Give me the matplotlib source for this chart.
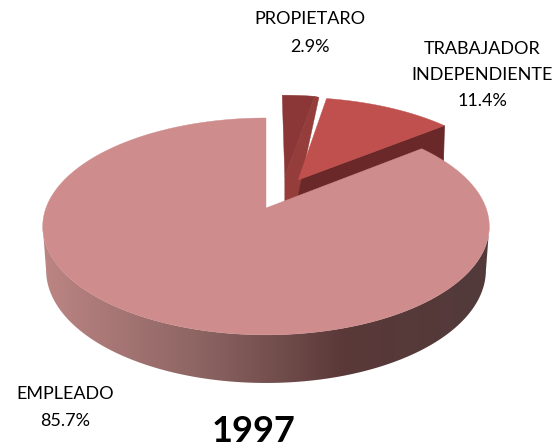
import numpy as np
import matplotlib
matplotlib.use("Agg")
import matplotlib.pyplot as plt
from matplotlib.patches import Polygon
from matplotlib.colors import LinearSegmentedColormap

categories = ["PROPIETARO", "TRABAJADOR\nINDEPENDIENTE", "EMPLEADO"]
shares = [2.9, 11.4, 85.7]
year_title = "1997"
top_colors = ["#8C3737", "#BF504E", "#CE8C8C"]
offsets = [(0.09, 0.31), (0.153, 0.279), (0.0, 0.0)]

W, H = 553, 447
CX, CY, A, B, K = 266.0, 208.0, 105.3, 220.0, 0.17
DEPTH_NEAR, DEPTH_FAR, SHRINK = 50.0, 35.0, 0.985

plt.rcParams["font.family"] = ["Lato", "DejaVu Sans"]
fig = plt.figure(figsize=(W / 100, H / 100), dpi=100)
ax = fig.add_axes([0, 0, 1, 1])


def proj(x, y, lower=False):
    x, y = np.asarray(x, float), np.asarray(y, float)
    den = 1 + K * y
    sx, sy = B * x / den, A * y / den
    if lower:
        sx = sx * SHRINK
        sy = sy * SHRINK - (DEPTH_NEAR + DEPTH_FAR) / 2 + (DEPTH_NEAR - DEPTH_FAR) / 2 * y
    return CX + sx, CY - sy


def wedge(a0, a1, off, n=200):
    t = np.radians(np.linspace(a0, a1, n))
    return np.sin(t) + off[0], np.cos(t) + off[1]


edges = np.concatenate([[0], np.cumsum(shares) * 3.6])

# slice 2 (trabajador)
xs2, ys2 = wedge(edges[1], edges[2], offsets[1])
px, py = proj(np.r_[offsets[1][0], xs2], np.r_[offsets[1][1], ys2])
ex, ey = proj(xs2[-1], ys2[-1])
aix, aiy = proj(*offsets[1])
ax.add_patch(Polygon([[aix, aiy], [ex, ey], [ex - 1, ey + 38], [aix - 1, aiy + 25]],
                     fc="#6A2828", ec="#6A2828", lw=0.5, zorder=2))
ax.add_patch(Polygon(np.c_[px, py], fc=top_colors[1], ec=top_colors[1], lw=0.3, zorder=3))

# slice 1 (propietario)
xs1, ys1 = wedge(edges[0], edges[1], offsets[0])
px, py = proj(np.r_[offsets[0][0], xs1], np.r_[offsets[0][1], ys1])
ex, ey = proj(xs1[-1], ys1[-1])
aix, aiy = proj(*offsets[0])
ax.add_patch(Polygon([[aix, aiy], [ex, ey], [ex + 4, ey + 1], [aix + 12, aiy + 23], [aix, aiy + 29]],
                     fc="#953D3B", ec="#953D3B", lw=0.3, zorder=2))
ax.add_patch(Polygon(np.c_[px, py], fc=top_colors[0], ec=top_colors[0], lw=0.3, zorder=3))

# main slice: gradient wall (silhouette to silhouette), then top
xs, ys = wedge(edges[2], edges[3], offsets[2], 800)
front = ys <= -K
tx, ty = proj(xs[front], ys[front])
bx, by = proj(xs[front], ys[front], True)
cmap = LinearSegmentedColormap.from_list(
    "wall", [(0, "#BC8584"), (0.36, "#8B6462"), (0.68, "#5A3838"), (1, "#523B3B")])
wall = Polygon(np.c_[np.r_[tx, bx[::-1]], np.r_[ty, by[::-1]]], fc="none", ec="none",
               transform=ax.transData)
ax.add_patch(wall)
grad = np.linspace(0, 1, 512).reshape(1, -1)
im = ax.imshow(grad, cmap=cmap, extent=(42, 490, H, 0), aspect="auto", zorder=4,
               interpolation="bilinear")
im.set_clip_path(wall)
px, py = proj(np.r_[offsets[2][0], xs], np.r_[offsets[2][1], ys])
ax.add_patch(Polygon(np.c_[px, py], fc=top_colors[2], ec=top_colors[2], lw=0.3, zorder=5))

ax.set_xlim(0, W)
ax.set_ylim(H, 0)
ax.axis("off")

# labels
fs = 13
label_pos = [(310, 33, 1.95), (482, 75, 1.75), (65, 407.5, 1.9)]
for cat, val, (x, y, ls) in zip(categories, shares, label_pos):
    ax.text(x, y, f"{cat}\n{val:.1f}%", ha="center", va="center", fontsize=fs,
            color="black", linespacing=ls, zorder=6)
ax.text(254, 431, year_title, ha="center", va="center", fontsize=26, fontweight="bold",
        color="black", zorder=6)

fig.savefig("out.png", dpi=100, facecolor="white")
